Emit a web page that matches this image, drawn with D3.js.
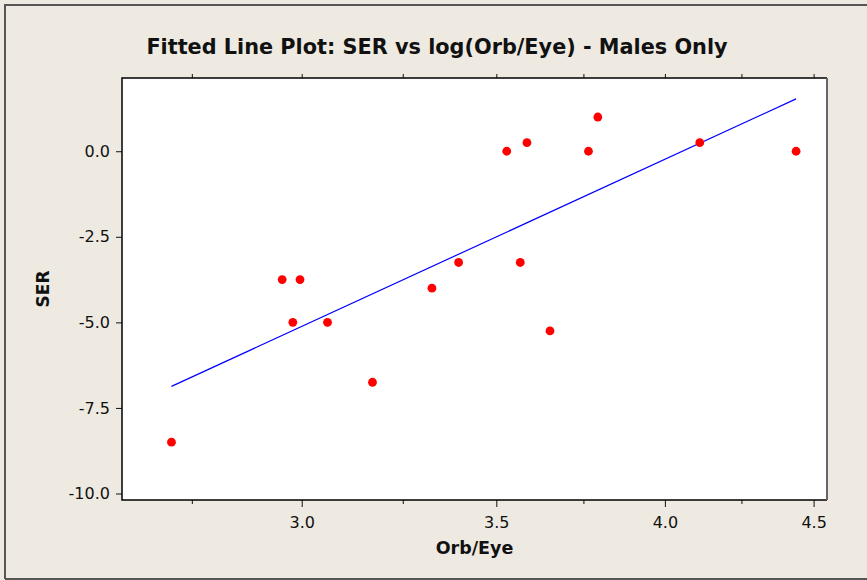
<!DOCTYPE html>
<html>
<head>
<meta charset="utf-8">
<script src="https://cdn.jsdelivr.net/npm/d3@7"></script>
<style>
  body { margin: 0; background: #eeeae1; }
  text { font-family: "DejaVu Sans", Verdana, sans-serif; fill: #111; }
</style>
</head>
<body>
<script>
// data
var orbEye = [2.706, 2.954, 2.996, 2.979, 3.062, 3.173, 3.326, 3.397, 3.567, 3.652, 3.529, 3.586, 3.765, 3.793, 4.112, 4.438];
var ser    = [-8.5, -3.75, -3.75, -5.0, -5.0, -6.75, -4.0, -3.25, -3.25, -5.25, 0.0, 0.25, 0.0, 1.0, 0.25, 0.0];

// fitted line ends
var fitX = [2.706, 4.438];
var fitY = [-6.87, 1.53];

var xMajor = [3.0, 3.5, 4.0, 4.5];
var xMinor = [2.75, 3.25, 3.75, 4.25];
var yTicks = [0.0, -2.5, -5.0, -7.5, -10.0];

var W = 867, H = 580;
var pLeft = 122, pRight = 827, pTop = 78, pBottom = 500;

var svg = d3.select("body")
            .append("svg")
            .attr("width", W)
            .attr("height", H);

// outer frame
svg.append("path")
   .attr("d", "M5,579 L5,5 L867,5")
   .attr("fill", "none")
   .attr("stroke", "#555")
   .attr("stroke-width", 2);
svg.append("line")
   .attr("x1", 5).attr("x2", W).attr("y1", 579).attr("y2", 579)
   .attr("stroke", "#555").attr("stroke-width", 2);

var x = d3.scaleLog()
          .domain([2.602, 4.548])
          .range([pLeft, pRight]);

var y = d3.scaleLinear()
          .domain([-10.19, 2.14])
          .range([pBottom, pTop]);

// plot area
svg.append("rect")
   .attr("x", pLeft).attr("y", pTop)
   .attr("width", pRight - pLeft).attr("height", pBottom - pTop)
   .attr("fill", "#fff");

var fmt = (d) => d.toFixed(1);

// bottom axis
svg.append("g")
   .attr("transform", "translate(0," + pBottom + ")")
   .call(d3.axisBottom(x).tickValues(xMajor).tickFormat(fmt).tickSize(7).tickPadding(10))
   .call(g => g.select(".domain").remove());
svg.append("g")
   .attr("transform", "translate(0," + pBottom + ")")
   .call(d3.axisBottom(x).tickValues(xMinor).tickFormat("").tickSize(4))
   .call(g => g.select(".domain").remove());

// top axis, ticks only
svg.append("g")
   .attr("transform", "translate(0," + pTop + ")")
   .call(d3.axisTop(x).tickValues(xMajor.concat(xMinor)).tickFormat("").tickSize(4))
   .call(g => g.select(".domain").remove());

// left axis
svg.append("g")
   .attr("transform", "translate(" + pLeft + ",0)")
   .call(d3.axisLeft(y).tickValues(yTicks).tickFormat(fmt).tickSize(6).tickPadding(6))
   .call(g => g.select(".domain").remove());

svg.selectAll(".tick text")
   .style("font-family", "DejaVu Sans, Verdana, sans-serif")
   .style("font-size", "16px")
   .attr("fill", "#111");
svg.selectAll(".tick line").attr("stroke", "#111");

// plot border
svg.append("path")
   .attr("d", "M" + pRight + "," + pTop + " L" + pLeft + "," + pTop + " L" + pLeft + "," + pBottom + " L" + pRight + "," + pBottom)
   .attr("fill", "none")
   .attr("stroke", "#000")
   .attr("stroke-width", 1.5);
svg.append("line")
   .attr("x1", pRight).attr("x2", pRight).attr("y1", pTop).attr("y2", pBottom)
   .attr("stroke", "#666").attr("stroke-width", 2);

// fitted line
svg.append("line")
   .attr("x1", x(fitX[0])).attr("y1", y(fitY[0]))
   .attr("x2", x(fitX[1])).attr("y2", y(fitY[1]))
   .attr("stroke", "#0000ff")
   .attr("stroke-width", 1.2);

// points
svg.append("g")
   .selectAll("circle")
   .data(orbEye)
   .enter()
   .append("circle")
   .attr("cx", (d) => x(d))
   .attr("cy", (d, i) => y(ser[i]))
   .attr("r", 4.4)
   .attr("fill", "#ff0000");

// titles
svg.append("text")
   .attr("x", 437)
   .attr("y", 54)
   .attr("text-anchor", "middle")
   .style("font-size", "20.8px")
   .style("font-weight", "bold")
   .text("Fitted Line Plot: SER vs log(Orb/Eye) - Males Only");

svg.append("text")
   .attr("x", (pLeft + pRight) / 2)
   .attr("y", 554)
   .attr("text-anchor", "middle")
   .style("font-size", "17.5px")
   .style("font-weight", "bold")
   .text("Orb/Eye");

svg.append("text")
   .attr("transform", "translate(48.5," + (pTop + pBottom) / 2 + ") rotate(-90)")
   .attr("text-anchor", "middle")
   .style("font-size", "17px")
   .style("font-weight", "bold")
   .text("SER");
</script>
</body>
</html>
